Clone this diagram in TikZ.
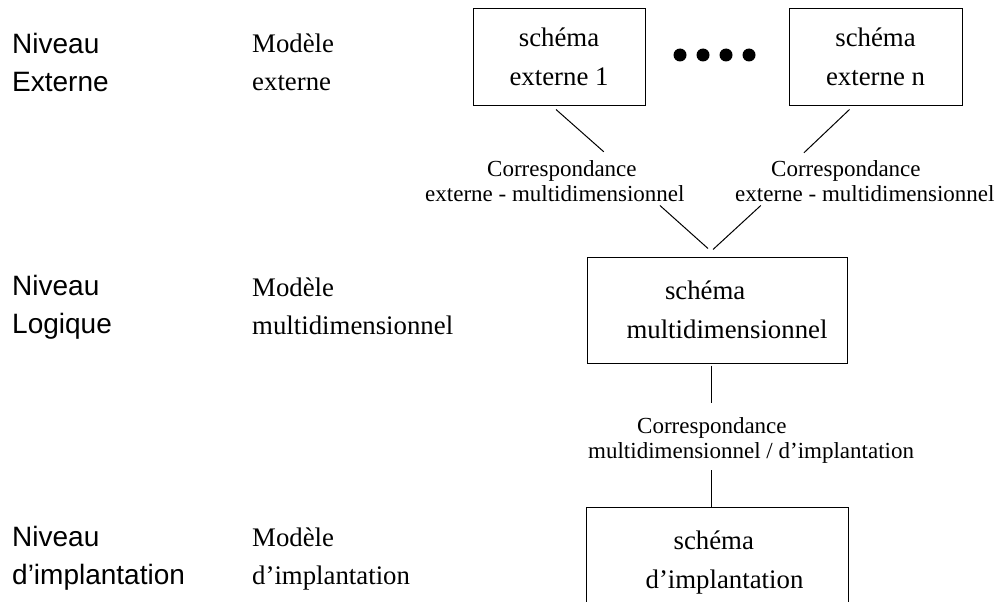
\documentclass[tikz,border=0pt]{standalone}
\usepackage{fontspec}
\setmainfont{Liberation Serif}
\setsansfont{Liberation Sans}
\begin{document}
\begin{tikzpicture}[x=1pt,y=-1pt,
  tierlabel/.style={font=\sffamily\fontsize{28}{38}\selectfont, anchor=base west, align=left, inner sep=0pt},
  modellabel/.style={font=\fontsize{26.8}{38}\selectfont, anchor=base west, align=left, inner sep=0pt},
  schemabox/.style={draw, line width=1pt, font=\fontsize{26.8}{39}\selectfont, inner sep=0pt},
  corrlabel/.style={font=\fontsize{23}{25}\selectfont, anchor=base west, align=left, inner sep=0pt},
  connector/.style={line width=1pt},
  ellipsisdot/.style={circle, fill, inner sep=0pt, minimum size=13pt}]
\useasboundingbox (0,0) rectangle (996,602);

% level names (base anchor = baseline of the last line)
\node[tierlabel] (n1) at (12,92) {Niveau\\Externe};
\node[tierlabel] (n2) at (12,333) {Niveau\\Logique};
\node[tierlabel] (n3) at (12,584) {Niveau\\d’implantation};

% models
\node[modellabel] (m1) at (252,90) {Modèle\\externe};
\node[modellabel] (m2) at (252,334) {Modèle\\multidimensionnel};
\node[modellabel] (m3) at (252,584) {Modèle\\d’implantation};

% schemas
\node[schemabox, minimum width=172pt, minimum height=96pt, align=center] (e1) at (559,57) {schéma\\externe 1};
\node[schemabox, minimum width=173pt, minimum height=96pt, align=center] (en) at (875.5,57) {schéma\\externe n};
\node[schemabox, minimum width=260pt, minimum height=106pt, align=left] (md) at (717,310) {\hspace*{58.5pt}schéma\\\hspace*{20pt}multidimensionnel};
\node[schemabox, draw=none, minimum width=261pt, minimum height=110pt, align=left] (im) at (717.5,563) {\hspace*{42pt}schéma\\\hspace*{14pt}d’implantation};
\draw[connector] (im.south west) -- (im.north west) -- (im.north east) -- (im.south east);

% further external schemas
\node[ellipsisdot] (d1) at (680,55) {};
\node[ellipsisdot] (d2) at (703,55) {};
\node[ellipsisdot] (d3) at (726,55) {};
\node[ellipsisdot] (d4) at (749,55) {};

% mappings
\node[corrlabel] (c1) at (425,201) {\hspace*{62pt}Correspondance\\externe - multidimensionnel};
\node[corrlabel] (c2) at (735,201) {\hspace*{36pt}Correspondance\\externe - multidimensionnel};
\node[corrlabel] (c3) at (588,458) {\hspace*{49pt}Correspondance\\multidimensionnel / d’implantation};

\draw[connector] ([xshift=-3pt,yshift=-4pt]e1.south) -- ([xshift=49pt,yshift=8pt]c1.north);
\draw[connector] ([xshift=-26pt,yshift=-4pt]en.south) -- ([xshift=-61pt,yshift=7pt]c2.north);
\draw[connector] ([xshift=105pt,yshift=-4pt]c1.south) -- ([xshift=-9pt,yshift=8pt]md.north);
\draw[connector] ([xshift=-104pt,yshift=-4pt]c2.south) -- ([xshift=-4pt,yshift=7pt]md.north);
\draw[connector] ([xshift=-6pt,yshift=-2pt]md.south) -- ([xshift=-6pt,yshift=14pt]md.south |- c3.north);
\draw[connector] ([xshift=-6.5pt,yshift=-7pt]im.north |- c3.south) -- ([xshift=-6.5pt]im.north);
\end{tikzpicture}
\end{document}
